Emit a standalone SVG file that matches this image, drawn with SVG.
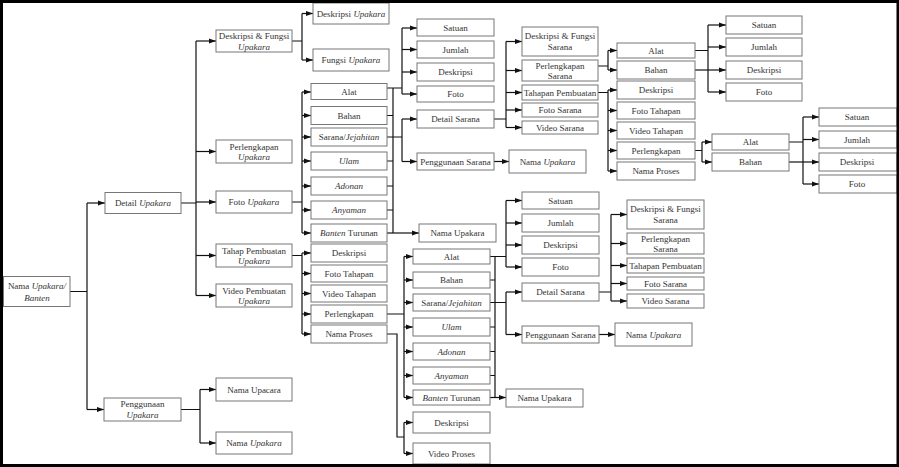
<svg xmlns="http://www.w3.org/2000/svg" width="899" height="467" viewBox="0 0 899 467">
<defs>
<marker id="ah" markerUnits="userSpaceOnUse" markerWidth="7" markerHeight="6" refX="7" refY="3" orient="auto"><path d="M0,0.5 L7,3 L0,5.5 z" fill="#111"/></marker>
<style>
.b{fill:#fff;stroke:#777;stroke-width:1}
.t{font-family:"Liberation Serif","Times New Roman",serif;font-size:9px;fill:#333;text-anchor:middle}
.i{font-style:italic}
.c path{fill:none;stroke:#111;stroke-width:1.2}
.c .a{marker-end:url(#ah)}
</style>
</defs>
<rect x="0" y="0" width="899" height="467" fill="#000"/>
<rect x="3" y="3" width="894" height="461" fill="#fff"/>

<g class="c" id="connectors">
<!-- root -->
<path d="M70,291.5 H87 M87,203 V409.5"/>
<path class="a" d="M87,203 H105"/>
<path class="a" d="M87,409.5 H104"/>
<!-- detail upakara -->
<path d="M181,203 H196 M196,41 V295.5"/>
<path class="a" d="M196,41 H216"/><path class="a" d="M196,151.5 H216"/><path class="a" d="M196,202 H216"/><path class="a" d="M196,255.5 H216"/><path class="a" d="M196,295.5 H216"/>
<!-- penggunaan upakara -->
<path d="M181,409.5 H200 M200,389.5 V443"/>
<path class="a" d="M200,389.5 H216"/><path class="a" d="M200,443 H216"/>
<!-- deskripsi & fungsi upakara -->
<path d="M292,41 H302 M302,13.5 V60"/>
<path class="a" d="M302,13.5 H313"/><path class="a" d="M302,60 H313"/>
<!-- foto upakara -->
<path d="M292,202 H302 M302,92 V233"/>
<path class="a" d="M302,92 H311"/><path class="a" d="M302,115.5 H311"/><path class="a" d="M302,137 H311"/><path class="a" d="M302,161 H311"/><path class="a" d="M302,186 H311"/><path class="a" d="M302,210 H311"/><path class="a" d="M302,233 H311"/>
<!-- upper column right bus -->
<path d="M393,88 V233 M387,115.5 H393 M387,161 H393 M387,186 H393 M387,210 H393"/>
<path d="M387,88 H402 M402,28 V94"/>
<path class="a" d="M402,28 H417"/><path class="a" d="M402,49.5 H417"/><path class="a" d="M402,72 H417"/><path class="a" d="M402,94 H417"/>
<path d="M387,137 H402 M402,119 V161.5"/>
<path class="a" d="M402,119 H417"/><path class="a" d="M402,161.5 H417"/>
<path class="a" d="M387,233 H419"/>
<path class="a" d="M494,161.5 H509"/>
<!-- detail sarana upper -->
<path d="M494,119 H506 M506,41.5 V127.5"/>
<path class="a" d="M506,41.5 H522"/><path class="a" d="M506,70.5 H522"/><path class="a" d="M506,92.5 H522"/><path class="a" d="M506,110 H522"/><path class="a" d="M506,127.5 H522"/>
<!-- perlengkapan sarana -->
<path d="M598,66 H608 M608,50.5 V70"/>
<path class="a" d="M608,50.5 H617"/><path class="a" d="M608,70 H617"/>
<!-- tahapan pembuatan -->
<path d="M598,92.5 H608 M608,90 V171"/>
<path class="a" d="M608,90 H617"/><path class="a" d="M608,110.5 H617"/><path class="a" d="M608,130.5 H617"/><path class="a" d="M608,150.5 H617"/><path class="a" d="M608,171 H617"/>
<!-- alat / bahan -->
<path d="M695,50.5 H708 M708,25 V92"/>
<path class="a" d="M708,25 H726"/><path class="a" d="M708,47 H726"/><path class="a" d="M708,92 H726"/>
<path class="a" d="M695,70 H726"/>
<!-- perlengkapan (tahapan) -->
<path d="M695,150.5 H702 M702,142 V162"/>
<path class="a" d="M702,142 H712"/><path class="a" d="M702,162 H712"/>
<path d="M789,142 H803 M803,117 V184"/>
<path class="a" d="M803,117 H819"/><path class="a" d="M803,139.5 H819"/><path class="a" d="M803,184 H819"/>
<path class="a" d="M789,162 H819"/>
<!-- tahap pembuatan upakara -->
<path d="M292,255.5 H302 M302,253 V334"/>
<path class="a" d="M302,253 H311"/><path class="a" d="M302,273.5 H311"/><path class="a" d="M302,293.5 H311"/><path class="a" d="M302,314 H311"/><path class="a" d="M302,334 H311"/>
<!-- perlengkapan lower -->
<path d="M387,314 H404 M404,256.5 V397.5"/>
<path class="a" d="M404,256.5 H413"/><path class="a" d="M404,280 H413"/><path class="a" d="M404,302.5 H413"/><path class="a" d="M404,327 H413"/><path class="a" d="M404,351.5 H413"/><path class="a" d="M404,375.5 H413"/><path class="a" d="M404,397.5 H413"/>
<!-- nama proses lower -->
<path d="M387,334 H397 V437 H404 M404,422.5 V453.5"/>
<path class="a" d="M404,422.5 H413"/><path class="a" d="M404,453.5 H413"/>
<!-- lower column right bus -->
<path d="M495,256.5 V397.5 M490,280 H495 M490,327 H495 M490,351.5 H495 M490,375.5 H495"/>
<path d="M490,256.5 H506 M506,200.5 V267"/>
<path class="a" d="M506,200.5 H522"/><path class="a" d="M506,223 H522"/><path class="a" d="M506,245 H522"/><path class="a" d="M506,267 H522"/>
<path d="M490,302.5 H506 M506,292 V334.5"/>
<path class="a" d="M506,292 H522"/><path class="a" d="M506,334.5 H522"/>
<path class="a" d="M490,397.5 H506"/>
<path class="a" d="M599,334.5 H615"/>
<path d="M599,292 H611 M611,214.5 V301"/>
<path class="a" d="M611,214.5 H627"/><path class="a" d="M611,243.5 H627"/><path class="a" d="M611,265.5 H627"/><path class="a" d="M611,283.5 H627"/><path class="a" d="M611,301 H627"/>
</g>

<g id="n_root"><rect class="b" x="3.5" y="276.5" width="66.5" height="30"/><text class="t" x="37" y="289">Nama <tspan class="i">Upakara/</tspan></text><text class="t" x="37" y="301"><tspan class="i">Banten</tspan></text></g>
<g id="n_detail"><rect class="b" x="105" y="192.5" width="76" height="21"/><text class="t" x="143" y="206">Detail <tspan class="i">Upakara</tspan></text></g>
<g id="n_penggunaan"><rect class="b" x="104" y="398" width="77" height="23"/><text class="t" x="142.5" y="407">Penggunaan</text><text class="t i" x="142.5" y="418">Upakara</text></g>
<g id="n_dfu"><rect class="b" x="216" y="30" width="76" height="22"/><text class="t" x="254" y="39">Deskripsi &amp; Fungsi</text><text class="t i" x="254" y="49.5">Upakara</text></g>
<g id="n_perl_u"><rect class="b" x="216" y="140" width="76" height="23"/><text class="t" x="254" y="149.5">Perlengkapan</text><text class="t i" x="254" y="160">Upakara</text></g>
<g id="n_foto_u"><rect class="b" x="216" y="191" width="76" height="22"/><text class="t" x="254" y="205">Foto <tspan class="i">Upakara</tspan></text></g>
<g id="n_tahap_u"><rect class="b" x="216" y="244" width="76" height="23"/><text class="t" x="254" y="253.5">Tahap Pembuatan</text><text class="t i" x="254" y="264">Upakara</text></g>
<g id="n_video_u"><rect class="b" x="216" y="284" width="76" height="23"/><text class="t" x="254" y="293.5">Video Pembuatan</text><text class="t i" x="254" y="304">Upakara</text></g>
<g id="n_upacara"><rect class="b" x="216" y="378" width="76" height="23"/><text class="t" x="254" y="392.5">Nama Upacara</text></g>
<g id="n_nama_up"><rect class="b" x="216" y="432" width="76" height="22"/><text class="t" x="254" y="446">Nama <tspan class="i">Upakara</tspan></text></g>
<g id="n_desk_up"><rect class="b" x="313" y="3" width="76" height="21"/><text class="t" x="351" y="16.5">Deskripsi <tspan class="i">Upakara</tspan></text></g>
<g id="n_fungsi_up"><rect class="b" x="313" y="49" width="76" height="22"/><text class="t" x="351" y="63">Fungsi <tspan class="i">Upakara</tspan></text></g>

<g id="a_alat"><rect class="b" x="311" y="83.5" width="76" height="16"/><text class="t" x="349" y="94.5">Alat</text></g>
<g id="a_bahan"><rect class="b" x="311" y="106.5" width="76" height="18"/><text class="t" x="349" y="118.5">Bahan</text></g>
<g id="a_sarana"><rect class="b" x="311" y="128" width="76" height="18"/><text class="t" x="349" y="140">Sarana/<tspan class="i">Jejahitan</tspan></text></g>
<g id="a_ulam"><rect class="b" x="311" y="152" width="76" height="18"/><text class="t i" x="349" y="164">Ulam</text></g>
<g id="a_adonan"><rect class="b" x="311" y="177" width="76" height="18"/><text class="t i" x="349" y="189">Adonan</text></g>
<g id="a_anyaman"><rect class="b" x="311" y="201" width="76" height="18"/><text class="t i" x="349" y="213">Anyaman</text></g>
<g id="a_banten"><rect class="b" x="311" y="224" width="76" height="18"/><text class="t" x="349" y="236"><tspan class="i">Banten</tspan> Turunan</text></g>

<g id="b_satuan"><rect class="b" x="417" y="19" width="77" height="17"/><text class="t" x="455.5" y="31">Satuan</text></g>
<g id="b_jumlah"><rect class="b" x="417" y="41" width="77" height="17"/><text class="t" x="455.5" y="53">Jumlah</text></g>
<g id="b_desk"><rect class="b" x="417" y="63" width="77" height="18"/><text class="t" x="455.5" y="75">Deskripsi</text></g>
<g id="b_foto"><rect class="b" x="417" y="86" width="77" height="16"/><text class="t" x="455.5" y="97">Foto</text></g>
<g id="b_detail"><rect class="b" x="417" y="110" width="77" height="18"/><text class="t" x="455.5" y="122">Detail Sarana</text></g>
<g id="b_pengg"><rect class="b" x="417" y="153" width="77" height="17"/><text class="t" x="455.5" y="165">Penggunaan Sarana</text></g>
<g id="b_nama"><rect class="b" x="509" y="150" width="77" height="23"/><text class="t" x="547.5" y="164.5">Nama <tspan class="i">Upakara</tspan></text></g>
<g id="b_nama2"><rect class="b" x="419" y="224" width="77" height="18"/><text class="t" x="457.5" y="236">Nama Upakara</text></g>

<g id="c_dfs"><rect class="b" x="522" y="27" width="76" height="29"/><text class="t" x="560" y="39">Deskripsi &amp; Fungsi</text><text class="t" x="560" y="50">Sarana</text></g>
<g id="c_ps"><rect class="b" x="522" y="60" width="76" height="21"/><text class="t" x="560" y="68.5">Perlengkapan</text><text class="t" x="560" y="79">Sarana</text></g>
<g id="c_tp"><rect class="b" x="522" y="85" width="76" height="15"/><text class="t" x="560" y="95.5">Tahapan Pembuatan</text></g>
<g id="c_fs"><rect class="b" x="522" y="103" width="76" height="14"/><text class="t" x="560" y="113">Foto Sarana</text></g>
<g id="c_vs"><rect class="b" x="522" y="121" width="76" height="13"/><text class="t" x="560" y="130.5">Video Sarana</text></g>

<g id="d_alat"><rect class="b" x="617" y="43" width="78" height="15"/><text class="t" x="656" y="53.5">Alat</text></g>
<g id="d_bahan"><rect class="b" x="617" y="61" width="78" height="18"/><text class="t" x="656" y="73">Bahan</text></g>
<g id="d_desk"><rect class="b" x="617" y="81" width="78" height="18"/><text class="t" x="656" y="93">Deskripsi</text></g>
<g id="d_foto_t"><rect class="b" x="617" y="102" width="78" height="17"/><text class="t" x="656" y="113.5">Foto Tahapan</text></g>
<g id="d_video_t"><rect class="b" x="617" y="122" width="78" height="17"/><text class="t" x="656" y="133.5">Video Tahapan</text></g>
<g id="d_perl"><rect class="b" x="617" y="142" width="78" height="17"/><text class="t" x="656" y="153.5">Perlengkapan</text></g>
<g id="d_nama_p"><rect class="b" x="617" y="162" width="78" height="18"/><text class="t" x="656" y="174">Nama Proses</text></g>

<g id="e_satuan"><rect class="b" x="726" y="16" width="76" height="18"/><text class="t" x="764" y="28">Satuan</text></g>
<g id="e_jumlah"><rect class="b" x="726" y="38" width="76" height="18"/><text class="t" x="764" y="50">Jumlah</text></g>
<g id="e_desk"><rect class="b" x="726" y="61" width="76" height="18"/><text class="t" x="764" y="73">Deskripsi</text></g>
<g id="e_foto"><rect class="b" x="726" y="83" width="76" height="18"/><text class="t" x="764" y="95">Foto</text></g>

<g id="f_alat"><rect class="b" x="712" y="134" width="77" height="16"/><text class="t" x="750.5" y="145">Alat</text></g>
<g id="f_bahan"><rect class="b" x="712" y="153" width="77" height="18"/><text class="t" x="750.5" y="165">Bahan</text></g>

<g id="g_satuan"><rect class="b" x="819" y="108" width="78" height="18"/><text class="t" x="857" y="120">Satuan</text></g>
<g id="g_jumlah"><rect class="b" x="819" y="131" width="78" height="17"/><text class="t" x="857" y="142.5">Jumlah</text></g>
<g id="g_desk"><rect class="b" x="819" y="153" width="78" height="18"/><text class="t" x="857" y="165">Deskripsi</text></g>
<g id="g_foto"><rect class="b" x="819" y="175" width="78" height="18"/><text class="t" x="857" y="187">Foto</text></g>

<g id="h_desk"><rect class="b" x="311" y="244" width="76" height="18"/><text class="t" x="349" y="256">Deskripsi</text></g>
<g id="h_foto_t"><rect class="b" x="311" y="265" width="76" height="17"/><text class="t" x="349" y="276.5">Foto Tahapan</text></g>
<g id="h_video_t"><rect class="b" x="311" y="285" width="76" height="17"/><text class="t" x="349" y="296.5">Video Tahapan</text></g>
<g id="h_perl"><rect class="b" x="311" y="305" width="76" height="18"/><text class="t" x="349" y="317">Perlengkapan</text></g>
<g id="h_nama_p"><rect class="b" x="311" y="325" width="76" height="18"/><text class="t" x="349" y="337">Nama Proses</text></g>

<g id="i_alat"><rect class="b" x="413" y="249" width="77" height="15"/><text class="t" x="451.5" y="259.5">Alat</text></g>
<g id="i_bahan"><rect class="b" x="413" y="272" width="77" height="16"/><text class="t" x="451.5" y="283">Bahan</text></g>
<g id="i_sarana"><rect class="b" x="413" y="294" width="77" height="17"/><text class="t" x="451.5" y="305.5">Sarana/<tspan class="i">Jejahitan</tspan></text></g>
<g id="i_ulam"><rect class="b" x="413" y="318" width="77" height="18"/><text class="t i" x="451.5" y="330">Ulam</text></g>
<g id="i_adonan"><rect class="b" x="413" y="343" width="77" height="17"/><text class="t i" x="451.5" y="354.5">Adonan</text></g>
<g id="i_anyaman"><rect class="b" x="413" y="367" width="77" height="17"/><text class="t i" x="451.5" y="378.5">Anyaman</text></g>
<g id="i_banten"><rect class="b" x="413" y="390" width="77" height="15"/><text class="t" x="451.5" y="400.5"><tspan class="i">Banten</tspan> Turunan</text></g>

<g id="j_satuan"><rect class="b" x="522" y="192" width="77" height="17"/><text class="t" x="560.5" y="204">Satuan</text></g>
<g id="j_jumlah"><rect class="b" x="522" y="214" width="77" height="18"/><text class="t" x="560.5" y="226">Jumlah</text></g>
<g id="j_desk"><rect class="b" x="522" y="236" width="77" height="18"/><text class="t" x="560.5" y="248">Deskripsi</text></g>
<g id="j_foto"><rect class="b" x="522" y="258" width="77" height="18"/><text class="t" x="560.5" y="270">Foto</text></g>
<g id="j_detail"><rect class="b" x="522" y="283" width="77" height="18"/><text class="t" x="560.5" y="295">Detail Sarana</text></g>
<g id="j_pengg"><rect class="b" x="522" y="326" width="77" height="17"/><text class="t" x="560.5" y="337.5">Penggunaan Sarana</text></g>
<g id="j_nama"><rect class="b" x="615" y="323" width="77" height="23"/><text class="t" x="653.5" y="337.5">Nama <tspan class="i">Upakara</tspan></text></g>
<g id="j_nama2"><rect class="b" x="506" y="389" width="77" height="18"/><text class="t" x="544.5" y="401">Nama Upakara</text></g>

<g id="k_dfs"><rect class="b" x="627" y="200" width="77" height="29"/><text class="t" x="665.5" y="212">Deskripsi &amp; Fungsi</text><text class="t" x="665.5" y="223">Sarana</text></g>
<g id="k_ps"><rect class="b" x="627" y="233" width="77" height="21"/><text class="t" x="665.5" y="241.5">Perlengkapan</text><text class="t" x="665.5" y="252">Sarana</text></g>
<g id="k_tp"><rect class="b" x="627" y="258" width="77" height="15"/><text class="t" x="665.5" y="268.5">Tahapan Pembuatan</text></g>
<g id="k_fs"><rect class="b" x="627" y="277" width="77" height="13"/><text class="t" x="665.5" y="286.5">Foto Sarana</text></g>
<g id="k_vs"><rect class="b" x="627" y="294" width="77" height="14"/><text class="t" x="665.5" y="304">Video Sarana</text></g>

<g id="l_desk"><rect class="b" x="413" y="412" width="77" height="21"/><text class="t" x="451.5" y="425.5">Deskripsi</text></g>
<g id="l_video"><rect class="b" x="413" y="443" width="77" height="21"/><text class="t" x="451.5" y="456.5">Video Proses</text></g>

<path d="M0,0 H899 V467 H0 Z M3,3 V464 H896.5 V3 Z" fill="#000" fill-rule="evenodd"/>
</svg>
